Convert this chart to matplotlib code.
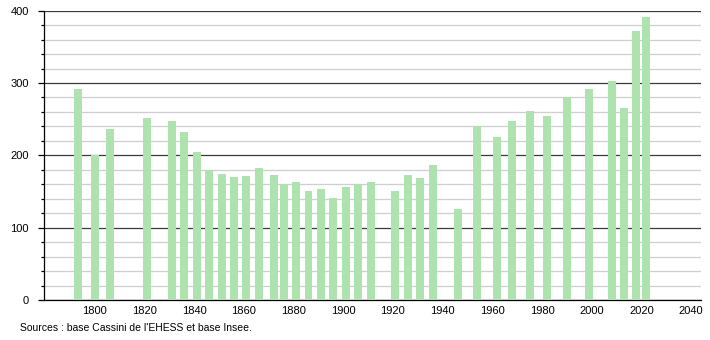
import matplotlib
matplotlib.use("Agg")
import matplotlib.pyplot as plt
from matplotlib.ticker import MultipleLocator

years = [1793, 1800, 1806, 1821, 1831, 1836, 1841, 1846, 1851, 1856, 1861, 1866,
         1872, 1876, 1881, 1886, 1891, 1896, 1901, 1906, 1911, 1921, 1926, 1931,
         1936, 1946, 1954, 1962, 1968, 1975, 1982, 1990, 1999, 2008, 2013, 2018, 2022]
population = [292, 200, 237, 252, 247, 232, 205, 180, 174, 170, 171, 183,
              173, 160, 163, 151, 153, 141, 156, 161, 163, 151, 173, 169,
              187, 126, 241, 226, 248, 261, 255, 281, 292, 303, 266, 372, 391]
x_ticks = [1800, 1820, 1840, 1860, 1880, 1900, 1920, 1940, 1960, 1980, 2000, 2020, 2040]
y_ticks = [0, 100, 200, 300, 400]
source_text = "Sources : base Cassini de l'EHESS et base Insee."

plt.rcParams['font.family'] = ['Liberation Sans', 'DejaVu Sans']

fig = plt.figure(figsize=(7.10, 3.40), dpi=100)
ax = fig.add_axes([44/710, 1 - 300/340, (700.7 - 44)/710, (300 - 10.7)/340])

ax.set_xlim(1779.5, 2043.9)
ax.set_ylim(0, 400)

ax.yaxis.set_minor_locator(MultipleLocator(20))
ax.set_yticks(y_ticks)
ax.set_xticks(x_ticks)
ax.grid(which='minor', axis='y', color='#cfcfcf', linewidth=0.9)
ax.grid(which='major', axis='y', color='#3a3a3a', linewidth=0.9)
ax.set_axisbelow(True)

ax.bar(years, population, width=3.2, color='#aee2ae', zorder=3)

for s in ['top', 'right']:
    ax.spines[s].set_visible(False)
ax.spines['left'].set_color('#000000')
ax.spines['bottom'].set_color('#000000')
ax.spines['left'].set_linewidth(0.9)
ax.spines['bottom'].set_linewidth(0.9)

ax.tick_params(axis='y', which='major', length=4, width=0.9, pad=7, labelsize=8)
ax.tick_params(axis='y', which='minor', length=2, width=0.9)
ax.tick_params(axis='x', which='major', length=0, pad=4, labelsize=8)

fig.text(20/710, 1 - 328/340, source_text, fontsize=7.5, va='center', ha='left')

fig.savefig('out.png', dpi=100)
